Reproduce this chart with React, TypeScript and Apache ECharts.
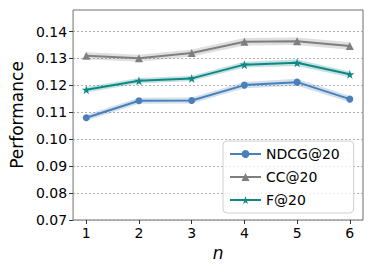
import React, { useEffect, useRef } from "react";
import * as echarts from "echarts";

const xValues = [1, 2, 3, 4, 5, 6];
const seriesNames = ["NDCG@20", "CC@20", "F@20"];
const ndcg = [0.108, 0.1143, 0.1144, 0.1201, 0.1212, 0.1149];
const cc = [0.131, 0.1301, 0.132, 0.1362, 0.1364, 0.1346];
const f20 = [0.1184, 0.1217, 0.1226, 0.1277, 0.1284, 0.1241];
const ndcgErr = [0.0011, 0.0011, 0.0011, 0.0012, 0.0013, 0.0012];
const ccErr = [0.0013, 0.0013, 0.0013, 0.0014, 0.0014, 0.0014];
const f20Err = [0.001, 0.001, 0.001, 0.0011, 0.0012, 0.0011];
const yTicks = [0.07, 0.08, 0.09, 0.1, 0.11, 0.12, 0.13, 0.14];

const colors = ["#4a80b8", "#7f7f7f", "#0f8784"];
const bandColors = ["rgba(74,128,184,0.25)", "rgba(127,127,127,0.25)", "rgba(15,135,132,0.25)"];
const symbols = [
  "circle",
  "triangle",
  "path://M50,0 L61,35 L98,35 L68,57 L79,91 L50,70 L21,91 L32,57 L2,35 L39,35 Z",
];
const symbolSizes = [7, 8, 9];

export default function App() {
  const ref = useRef<HTMLDivElement>(null);
  useEffect(() => {
    if (!ref.current) return;
    const chart = echarts.init(ref.current, null, { renderer: "svg" });
    const all = [ndcg, cc, f20];
    const errs = [ndcgErr, ccErr, f20Err];
    const series: any[] = [];
    all.forEach((vals, i) => {
      const rows = xValues.map((x, k) => [x, vals[k] - errs[i][k], vals[k] + errs[i][k]]);
      series.push({
        type: "custom",
        name: "band-" + i,
        silent: true,
        z: 1,
        data: rows,
        encode: { x: 0, y: [1, 2] },
        renderItem: (params: any, api: any) => {
          if (params.dataIndex !== 0) return null;
          const upper = rows.map((r) => api.coord([r[0], r[2]]));
          const lower = rows.map((r) => api.coord([r[0], r[1]])).reverse();
          return {
            type: "polygon",
            shape: { points: upper.concat(lower) },
            style: { fill: bandColors[i], stroke: "none" },
          };
        },
      });
    });
    all.forEach((vals, i) => {
      series.push({
        type: "line",
        name: seriesNames[i],
        data: xValues.map((x, k) => [x, vals[k]]),
        color: colors[i],
        lineStyle: { color: colors[i], width: 2 },
        itemStyle: { color: colors[i] },
        symbol: symbols[i],
        symbolSize: symbolSizes[i],
        showSymbol: true,
        z: 5,
      });
    });
    chart.setOption({
      animation: false,
      textStyle: { fontFamily: "DejaVu Sans" },
      grid: {
        left: 72,
        top: 10,
        right: 11,
        bottom: 52,
        show: true,
        borderColor: "#6e6e6e",
        borderWidth: 1,
        backgroundColor: "transparent",
      },
      xAxis: {
        type: "value",
        min: 0.75,
        max: 6.25,
        name: "n",
        nameLocation: "middle",
        nameGap: 24,
        nameTextStyle: { fontSize: 17, fontStyle: "italic", color: "#000", fontFamily: "DejaVu Sans" },
        axisLine: { show: false },
        axisTick: { show: true, customValues: xValues, length: 4, lineStyle: { color: "#333" } },
        axisLabel: {
          customValues: xValues,
          fontSize: 14,
          color: "#000",
          margin: 6,
          fontFamily: "DejaVu Sans",
        },
        splitLine: { show: false },
      },
      yAxis: {
        type: "value",
        min: 0.07,
        max: 0.148,
        name: "Performance",
        nameLocation: "middle",
        nameGap: 46,
        nameRotate: 90,
        nameTextStyle: { fontSize: 17, color: "#000", fontFamily: "DejaVu Sans" },
        axisLine: { show: false },
        axisTick: { show: true, customValues: yTicks, length: 4, lineStyle: { color: "#333" } },
        axisLabel: {
          customValues: yTicks,
          fontSize: 14,
          color: "#000",
          margin: 6,
          fontFamily: "DejaVu Sans",
          formatter: (v: number) => v.toFixed(2),
        },
        splitLine: {
          show: true,
          customValues: yTicks,
          lineStyle: { color: "#999", type: [2, 2], width: 0.8 },
        },
      },
      legend: {
        data: seriesNames,
        orient: "vertical",
        left: 223,
        top: 141,
        itemWidth: 31,
        itemHeight: 10,
        itemGap: 9,
        padding: [6, 14, 6, 6],
        borderColor: "#d0d0d0",
        borderWidth: 1,
        borderRadius: 4,
        backgroundColor: "rgba(255,255,255,0.8)",
        textStyle: { fontSize: 14, color: "#000", fontFamily: "DejaVu Sans" },
      },
      series,
    });
    return () => chart.dispose();
  }, []);
  return <div ref={ref} style={{ width: 374, height: 272, margin: -8 }} />;
}
